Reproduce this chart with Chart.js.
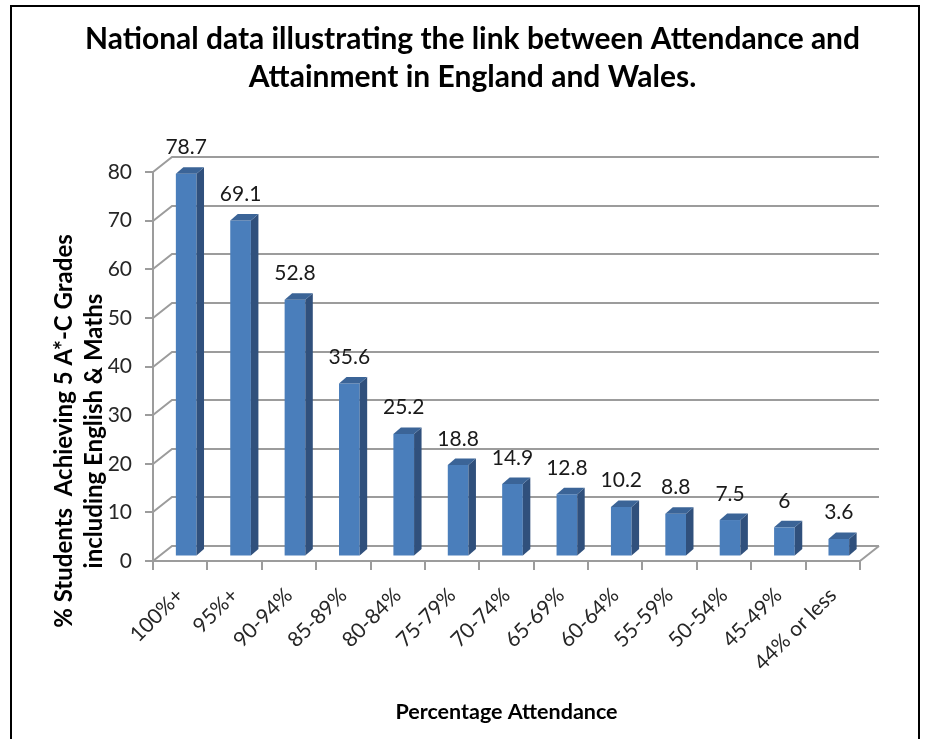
<!DOCTYPE html>
<html><head><meta charset="utf-8">
<script src="https://cdn.jsdelivr.net/npm/chart.js@4/dist/chart.umd.min.js"></script>
<style>
html,body{margin:0;padding:0;background:#fff;overflow:hidden}
#wrap{position:relative;width:930px;height:739px}
#frame{position:absolute;left:10px;top:5px;width:906px;height:760px;border:2px solid #000;pointer-events:none}
canvas{position:absolute;left:0;top:0}
</style></head><body>
<div id="wrap"><canvas id="c" width="930" height="739"></canvas><div id="frame"></div></div>
<script>
// ---- data ----
const categories = ['100%+','95%+','90-94%','85-89%','80-84%','75-79%','70-74%','65-69%','60-64%','55-59%','50-54%','45-49%','44% or less'];
const attainment = [78.7, 69.1, 52.8, 35.6, 25.2, 18.8, 14.9, 12.8, 10.2, 8.8, 7.5, 6, 3.6];
const yMin = 0, yMax = 80, yStep = 10;
const titleLines = ['National data illustrating the link between Attendance and', 'Attainment in England and Wales.'];
const yTitleLines = ['% Students  Achieving 5 A*-C Grades', 'including English & Maths'];
const xTitle = 'Percentage Attendance';

// ---- 3D styling ----
const DEPTH = {x: 19, y: -15};
const BAR_SHIFT = {x: 6, y: -4.5};
const BAR_SIDE = {x: 7.5, y: -6.5};
const GRID = '#9c9c9c';
const FRONT = '#4a7ebb', SIDE = '#30507c', TOP = '#3b6497';

const grid3d = {
  id: 'grid3d',
  beforeDatasetsDraw(chart) {
    const {ctx, chartArea: a, scales: {y}} = chart;
    ctx.save();
    ctx.strokeStyle = GRID; ctx.lineWidth = 2;
    y.ticks.forEach(t => {
      const py = Math.round(y.getPixelForValue(t.value));
      ctx.beginPath();
      ctx.moveTo(a.left, py);
      ctx.lineTo(a.left + DEPTH.x, py + DEPTH.y);
      ctx.lineTo(a.right + DEPTH.x, py + DEPTH.y);
      ctx.stroke();
    });
    const p0 = Math.round(y.getPixelForValue(0));
    ctx.beginPath();
    ctx.moveTo(a.right, p0);
    ctx.lineTo(a.right + DEPTH.x, p0 + DEPTH.y);
    ctx.stroke();
    ctx.restore();
    ctx.save();
    ctx.translate(BAR_SHIFT.x, BAR_SHIFT.y);
  },
  afterDatasetsDraw(chart) {
    const {ctx} = chart;
    const meta = chart.getDatasetMeta(0);
    meta.data.forEach(el => {
      const {x, y, base, width} = el.getProps(['x', 'y', 'base', 'width'], true);
      const l = x - width / 2, r = x + width / 2;
      ctx.fillStyle = SIDE;
      ctx.beginPath();
      ctx.moveTo(r, y); ctx.lineTo(r + BAR_SIDE.x, y + BAR_SIDE.y);
      ctx.lineTo(r + BAR_SIDE.x, base + BAR_SIDE.y); ctx.lineTo(r, base);
      ctx.closePath(); ctx.fill();
      ctx.fillStyle = TOP;
      ctx.beginPath();
      ctx.moveTo(l, y); ctx.lineTo(l + BAR_SIDE.x, y + BAR_SIDE.y);
      ctx.lineTo(r + BAR_SIDE.x, y + BAR_SIDE.y); ctx.lineTo(r, y);
      ctx.closePath(); ctx.fill();
    });
    ctx.restore();
    // value labels
    ctx.save();
    ctx.font = '21px Lato';
    ctx.fillStyle = '#1a1a1a';
    ctx.textAlign = 'center';
    ctx.textBaseline = 'alphabetic';
    meta.data.forEach((el, i) => {
      const {x, y} = el.getProps(['x', 'y'], true);
      ctx.fillText(String(attainment[i]), x + BAR_SHIFT.x, y - 24);
    });
    ctx.restore();
  },
  afterDraw(chart) {
    const {ctx} = chart;
    ctx.save();
    ctx.translate(64, 431);
    ctx.rotate(-Math.PI / 2);
    ctx.font = 'bold 24px Lato';
    ctx.fillStyle = '#000';
    ctx.textAlign = 'center';
    ctx.textBaseline = 'middle';
    yTitleLines.forEach((t, i) => ctx.fillText(t, 0, i * 30));
    ctx.restore();
  }
};

new Chart(document.getElementById('c'), {
  type: 'bar',
  data: {
    labels: categories,
    datasets: [{
      data: attainment,
      backgroundColor: FRONT,
      borderWidth: 0,
      categoryPercentage: 1,
      barPercentage: 0.38,
      clip: false
    }]
  },
  options: {
    responsive: false,
    animation: false,
    devicePixelRatio: 1,
    layout: {padding: {left: 85, right: 70, top: 0, bottom: 0}},
    plugins: {
      legend: {display: false},
      tooltip: {enabled: false},
      title: {
        display: true,
        text: titleLines,
        color: '#000',
        font: {family: 'Lato', size: 30, weight: 'bold', lineHeight: 1.267},
        padding: {top: 20, bottom: 76}
      }
    },
    scales: {
      x: {
        afterFit(s) { s.height = 178; },
        grid: {display: true, drawOnChartArea: false, drawTicks: true, tickLength: 9, color: GRID, lineWidth: 2},
        border: {display: true, color: GRID, width: 2},
        ticks: {font: {family: 'Lato', size: 21}, color: '#262626', minRotation: 45, maxRotation: 45, autoSkip: false, padding: 13},
        title: {display: true, text: xTitle, color: '#000', font: {family: 'Lato', size: 21.5, weight: 'bold', lineHeight: 1.2}, padding: {top: 0, bottom: 14}}
      },
      y: {
        min: yMin, max: yMax,
        afterFit(s) { s.width = 68; },
        grid: {display: true, drawOnChartArea: false, drawTicks: true, tickLength: 8, color: GRID, lineWidth: 2},
        border: {display: true, color: GRID, width: 2},
        ticks: {stepSize: yStep, font: {family: 'Lato', size: 21}, color: '#262626', padding: 13}
      }
    }
  },
  plugins: [grid3d]
});
</script>
</body></html>
